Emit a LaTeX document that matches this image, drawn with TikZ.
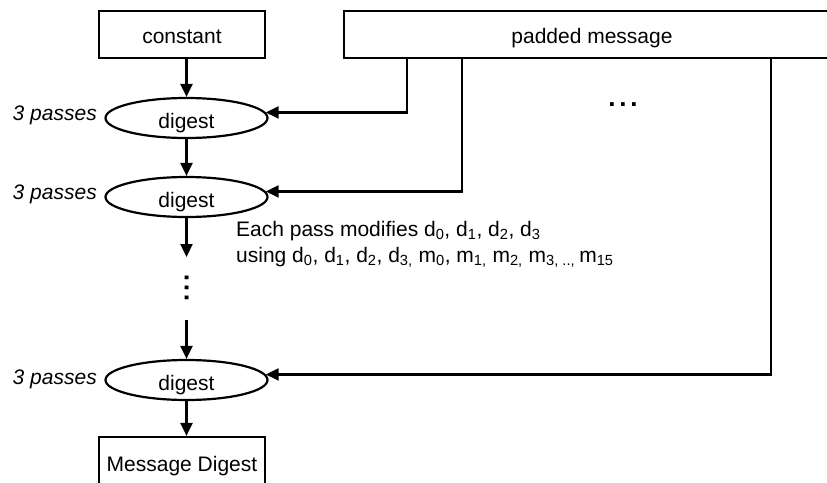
\documentclass[tikz,border=0pt]{standalone}
\usepackage{fontspec}
\setmainfont{Liberation Sans}
\usetikzlibrary{arrows.meta,shapes.geometric,calc}

\begin{document}
\begin{tikzpicture}[x=1pt,y=-1pt,
  every node/.style={font=\fontsize{21}{25}\selectfont},
  box/.style={draw, line width=2.2pt, minimum height=47pt, inner sep=0pt,
    text height=17pt, text depth=0pt},
  dig/.style={draw, ellipse, line width=2.2pt, minimum width=162pt,
    minimum height=40pt, inner sep=0pt, text height=20pt, text depth=0pt},
  pass/.style={font=\fontsize{21}{25}\selectfont\itshape, anchor=base east, inner sep=0pt},
  note/.style={anchor=base west, inner sep=0pt},
  dots/.style={inner sep=0pt, text height=4pt, text depth=0pt,
    font=\fontsize{26}{30}\selectfont\bfseries},
  arr/.style={line width=2.2pt, -{Triangle[length=13pt,width=12pt]}}]

\useasboundingbox (0,0) rectangle (827,482);
\clip (0,0) rectangle (827,482);

% inputs
\node[box, minimum width=166pt] (const) at (182,34.5) {constant};
\node[box, minimum width=496pt] (pm) at (592,34.5) {padded message};

% digest stages
\node[dig] (d1) at (186.5,118) {digest};
\node[dig] (d2) at (186.5,197) {digest};
\node[dig] (d3) at (186.5,380) {digest};

% output
\node[box, minimum width=166pt, minimum height=52pt] (md) at (182,463) {Message Digest};

% pass counts
\node[pass] (p1) at (97,120) {3 passes};
\node[pass] (p2) at (97,199) {3 passes};
\node[pass] (p3) at (97,384) {3 passes};

% main chain
\coordinate (gapA) at (186.5,257);
\coordinate (gapB) at (186.5,320);
\draw[arr] (const.south -| d1.north) -- (d1.north);
\draw[arr] (d1.south) -- (d2.north);
\draw[arr] (d2.south) -- (gapA);
\node[dots, rotate=90] (vdots) at (186.5,288) {.\hspace{2.8pt}.\hspace{2.8pt}.};
\draw[arr] (gapB) -- (d3.north);
\draw[arr] (d3.south) -- (md.north -| d3.south);

% message blocks feeding each stage
\draw[arr] ($(pm.south west)+(64,0)$) |- (d1.4);
\draw[arr] ($(pm.south west)+(119,0)$) |- (d2.4);
\draw[arr] ($(pm.south west)+(428,0)$) |- (d3.4);
\node[dots] (hdots) at (623,104) {.\hspace{3.8pt}.\hspace{3.8pt}.};

% explanation
\node[note] (n1) at (236,236) {Each pass modifies d\textsubscript{0}, d\textsubscript{1}, d\textsubscript{2}, d\textsubscript{3}};
\node[note] (n2) at (236,262) {using d\textsubscript{0}, d\textsubscript{1}, d\textsubscript{2}, d\textsubscript{3,} m\textsubscript{0}, m\textsubscript{1,} m\textsubscript{2,} m\textsubscript{3, .., }m\textsubscript{15}};
\end{tikzpicture}
\end{document}
